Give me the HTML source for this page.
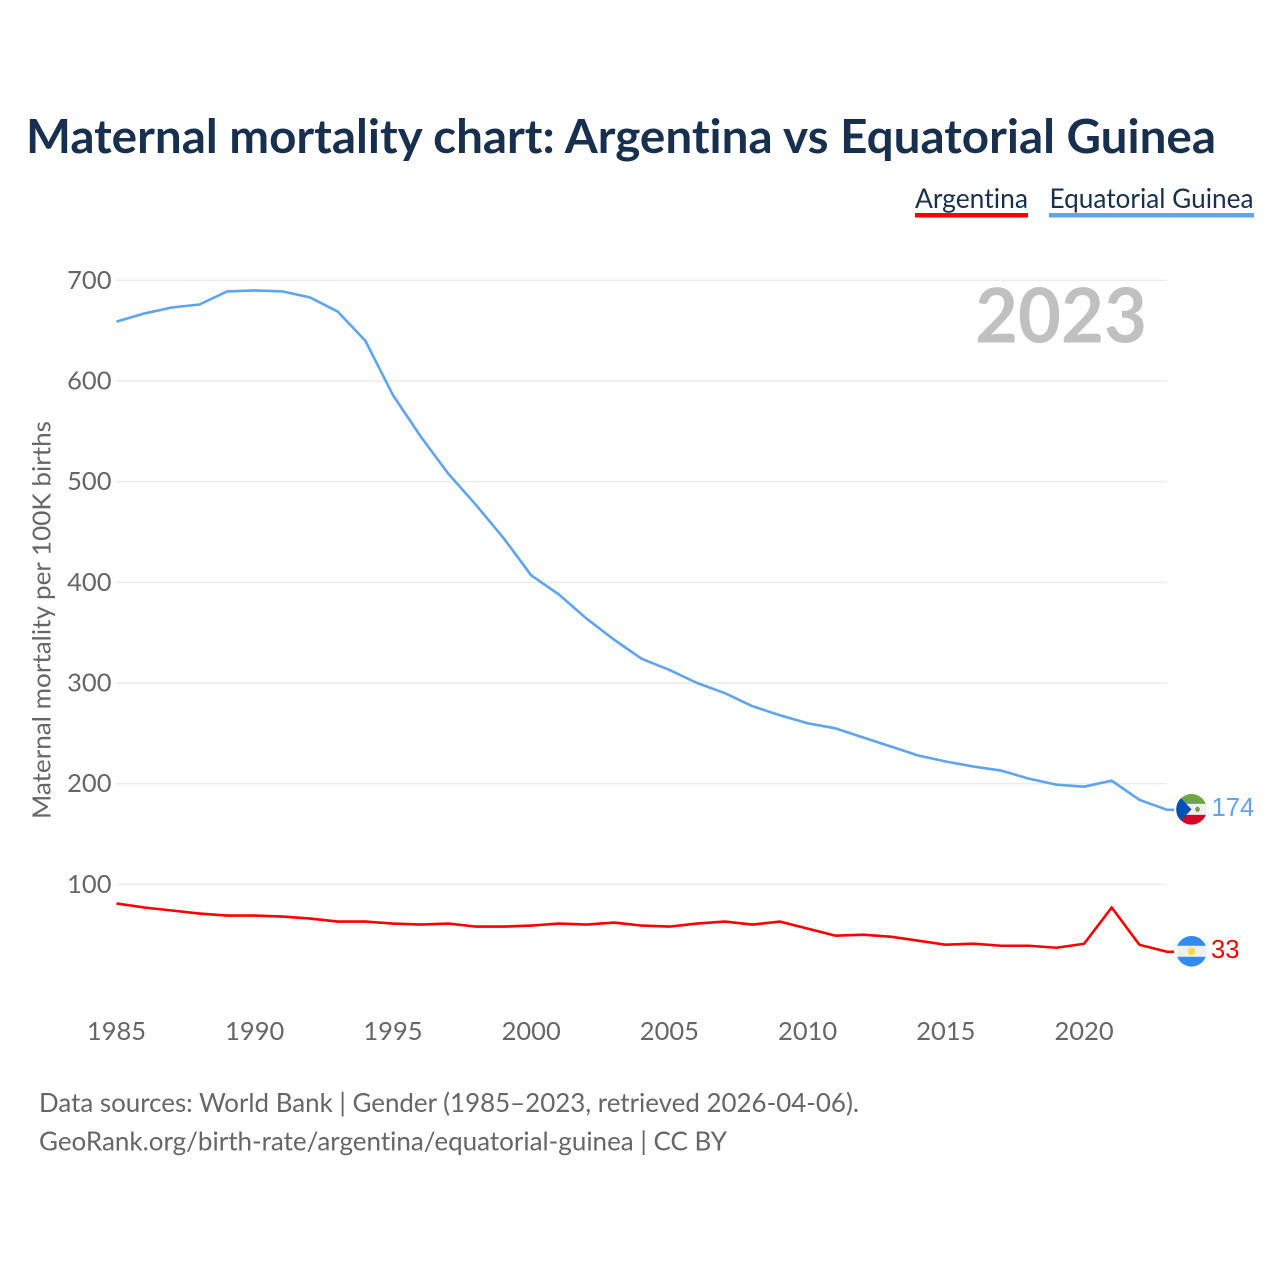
<!DOCTYPE html>
<html lang="en">
<head>
<meta charset="utf-8">
<title>Maternal mortality chart: Argentina vs Equatorial Guinea</title>
<style>
html,body{margin:0;padding:0;background:#fff;width:1280px;height:1280px;overflow:hidden}
svg{display:block}
.lato{font-family:"Lato","Carlito","Liberation Sans",sans-serif;font-variant-ligatures:none;font-feature-settings:"liga" 0,"clig" 0}
.arial{font-family:"Liberation Sans",Arial,sans-serif}
</style>
</head>
<body>
<svg id="chart" xmlns="http://www.w3.org/2000/svg" width="1280" height="1280" viewBox="0 0 1280 1280">
  <text class="lato" x="26" y="153" font-size="47" font-weight="700" fill="#17304f" textLength="1190" lengthAdjust="spacingAndGlyphs">Maternal mortality chart: Argentina vs Equatorial Guinea</text>
  <g>
    <g>
      <text class="lato" x="915" y="208" font-size="27" fill="#17304f" textLength="113" lengthAdjust="spacingAndGlyphs">Argentina</text>
      <rect x="915" y="213" width="113" height="4.5" fill="#ff0000"/>
    </g>
    <g>
      <text class="lato" x="1049.500" y="208" font-size="27" fill="#17304f" textLength="204" lengthAdjust="spacingAndGlyphs">Equatorial Guinea</text>
      <rect x="1049" y="213" width="205" height="4.500" fill="#5ea4ee"/>
    </g>
  </g>
  <g id="grid"></g>
  <g id="yticks"></g>
  <g id="xticks"></g>
  <text class="lato" transform="translate(50.500 620) rotate(-90)" text-anchor="middle" font-size="25.500" fill="#666666" textLength="398" lengthAdjust="spacingAndGlyphs">Maternal mortality per 100K births</text>
  <text class="lato" x="975" y="342.500" font-size="76" font-weight="700" fill="#c0c0c0" textLength="172" lengthAdjust="spacingAndGlyphs">2023</text>
  <g id="series"></g>

  <defs>
    <clipPath id="clip-gq"><circle id="clip-gq-c" r="15.300"/></clipPath>
    <clipPath id="clip-ar"><circle id="clip-ar-c" r="15.300"/></clipPath>
  </defs>
  <g id="flag-gq">
    <g clip-path="url(#clip-gq)">
      <rect x="-16" y="-16" width="32" height="32" fill="#f0f0f0"/>
      <rect x="-16" y="-16" width="32" height="10.500" fill="#6da544"/>
      <rect x="-16" y="5.500" width="32" height="10.500" fill="#d80027"/>
      <polygon points="-16,-17 -16,17 0,0" fill="#0052b4"/>
      <rect x="4.500" y="-2.500" width="3" height="5" fill="#6da544"/>
      <rect x="3.500" y="-1" width="5" height="2" fill="#6da544"/>
    </g>
  </g>
  <g id="flag-ar">
    <g clip-path="url(#clip-ar)">
      <rect x="-16" y="-16" width="32" height="32" fill="#f0f0f0"/>
      <rect x="-16" y="-16" width="32" height="10.500" fill="#338af3"/>
      <rect x="-16" y="5.500" width="32" height="10.500" fill="#338af3"/>
      <circle r="3.800" fill="#ffda44"/>
    </g>
  </g>
  <text id="label-gq" class="arial" x="1211.500" font-size="25.600" fill="#5ea4ee"></text>
  <text id="label-ar" class="arial" x="1211" font-size="25.600" fill="#ff0000"></text>

  <text class="lato" x="39" y="1112" font-size="26.500" fill="#666666" textLength="820" lengthAdjust="spacingAndGlyphs">Data sources: World Bank | Gender (1985–2023, retrieved 2026-04-06).</text>
  <text class="lato" x="39" y="1150.500" font-size="26.500" fill="#666666" textLength="688" lengthAdjust="spacingAndGlyphs">GeoRank.org/birth-rate/argentina/equatorial-guinea | CC BY</text>
</svg>
<script>
const years = [1985,1986,1987,1988,1989,1990,1991,1992,1993,1994,1995,1996,1997,1998,1999,2000,2001,2002,2003,2004,2005,2006,2007,2008,2009,2010,2011,2012,2013,2014,2015,2016,2017,2018,2019,2020,2021,2022,2023];
const equatorialGuinea = [659,667,673,676,689,690,689,683,669,640,586,545,508,477,444,407,388,364,343,324,313,300,290,277,268,260,255,246,237,228,222,217,213,205,199,197,203,184,174];
const argentina = [81,77,74,71,69,69,68,66,63,63,61,60,61,58,58,59,61,60,62,59,58,61,63,60,63,56,49,50,48,44,40,41,39,39,37,41,77,40,33];
const yTickValues = [100,200,300,400,500,600,700];
const xTickValues = [1985,1990,1995,2000,2005,2010,2015,2020];

const NS = 'http://www.w3.org/2000/svg';
const xScale = year => 116.5 + (year - 1985) * (1167 - 116.5) / (2023 - 1985);
const yScale = value => 985 - value * 1.00667;

function svgEl(tag, attrs, parent) {
  const el = document.createElementNS(NS, tag);
  for (const key in attrs) el.setAttribute(key, attrs[key]);
  parent.appendChild(el);
  return el;
}

const gridGroup = document.getElementById('grid');
const yTickGroup = document.getElementById('yticks');
const xTickGroup = document.getElementById('xticks');
const seriesGroup = document.getElementById('series');

yTickValues.forEach(function (value) {
  const y = yScale(value);
  const line = svgEl('line', {x1: 116.5, x2: 1167, y1: y, y2: y, stroke: '#ececec', 'stroke-width': 1.5}, gridGroup);
  
  
  const label = svgEl('text', {x: 111.5, y: y + 8.5, 'text-anchor': 'end', 'font-size': 25.5, fill: '#666666', class: 'lato'}, yTickGroup);
  
  
  label.textContent = value;
});

xTickValues.forEach(function (year) {
  const label = svgEl('text', {x: xScale(year), y: 1040, 'text-anchor': 'middle', 'font-size': 25.5, fill: '#666666', class: 'lato'}, xTickGroup);
  
  
  label.textContent = year;
});

function drawSeries(values, color, seriesName) {
  const pts = values.map(function (v, i) { return xScale(years[i]).toFixed(2) + ',' + yScale(v).toFixed(2); });
  const endY = yScale(values[values.length - 1]);
  pts.push('1174,' + endY.toFixed(2));
  const line = svgEl('polyline', {points: pts.join(' '), fill: 'none', stroke: color, 'stroke-width': 2.6, 'stroke-linejoin': 'round'}, seriesGroup);
  
  
  return endY;
}

const gqEnd = drawSeries(equatorialGuinea, '#5ea4ee', 'line-equatorial-guinea');
const arEnd = drawSeries(argentina, '#ff0000', 'line-argentina');

function placeEnd(flagId, clipId, labelId, endY, value) {
  document.getElementById(flagId).setAttribute('transform', 'translate(1191.500 ' + (endY - 0.5) + ')');
  const clip = document.getElementById(clipId);
  clip.setAttribute('cx', 0);
  clip.setAttribute('cy', 0);
  const label = document.getElementById(labelId);
  label.setAttribute('y', endY + 6);
  label.textContent = value;
}
placeEnd('flag-gq', 'clip-gq-c', 'label-gq', gqEnd, equatorialGuinea[equatorialGuinea.length - 1]);
placeEnd('flag-ar', 'clip-ar-c', 'label-ar', arEnd, argentina[argentina.length - 1]);
</script>
</body>
</html>
